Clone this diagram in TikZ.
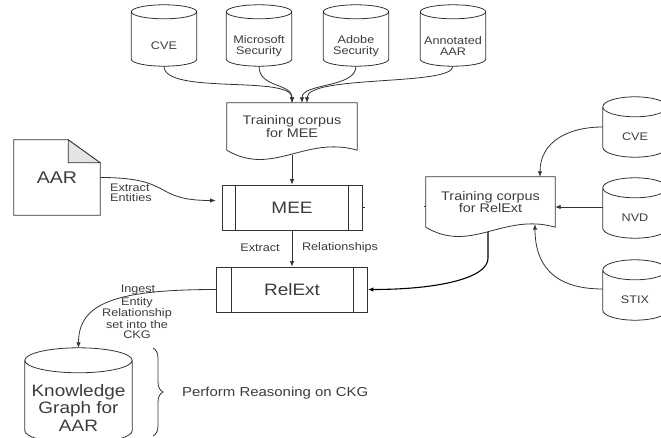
\documentclass[tikz,border=0pt]{standalone}
\usepackage{fontspec}
\setmainfont{Liberation Sans}[FakeStretch=1.15]
\usetikzlibrary{arrows.meta,calc,decorations.pathreplacing}

\definecolor{ink}{HTML}{333333}
\definecolor{inktext}{HTML}{3C3C3C}
\definecolor{foldgray}{HTML}{E4E4E4}

% Cylinder (database) drawn round a node: #1 node, #2 half-height of the
% end ellipses, #3 gap between the node's top and the front of the lid
\newcommand\drawdb[3]{%
  \draw[boxline] let \p1=(#1.north west), \p2=(#1.south east),
      \n1={(\x2-\x1)/2}, \n2={\y1+#3pt+#2pt} in
    (\x1,\n2) -- (\x1,\y2+#2pt)
      arc[start angle=180, end angle=360, x radius=\n1, y radius=#2pt]
      -- (\x2,\n2)
    (\x1+\n1,\n2) ellipse[x radius=\n1, y radius=#2pt];
}

% Document shape: box with a wavy lower edge below the node's bottom line
\newcommand\drawdoc[1]{%
  \draw[boxline] let \p1=(#1.north west), \p2=(#1.south east),
      \n1={\x2-\x1} in
    (\x1,\y2) -- (\x1,\y1) -- (\x2,\y1) -- (\x2,\y2)
    .. controls (\x1+0.6*\n1,\y2+15pt) and (\x1+0.35*\n1,\y2-27pt) .. (\x1,\y2)
    -- cycle;
}

\begin{document}
\begin{tikzpicture}[x=1pt,y=1pt,
  boxline/.style={draw=ink, line width=0.8pt},
  conn/.style={draw=ink, line width=0.8pt, -{Latex[length=5.5pt,width=4.5pt]}},
  dbnode/.style={minimum width=65pt, minimum height=40pt, inner sep=0pt,
    align=center, text=inktext, font=\fontsize{11}{10.5}\selectfont},
  docnode/.style={inner sep=0pt, align=center, text=inktext,
    font=\fontsize{12.5}{12.5}\selectfont},
  procbox/.style={boxline, minimum height=45pt, inner sep=0pt, text=inktext,
    font=\fontsize{16.5}{18}\selectfont},
  lbl/.style={inner sep=0pt, text=inktext, align=center,
    font=\fontsize{11}{10}\selectfont},
]
\useasboundingbox (0,0) rectangle (661,437);

% data sources
\node[dbnode] (cve1)  at (164,391) {CVE};
\node[dbnode] (ms)    at (259,391) {Microsoft\\Security};
\node[dbnode] (adobe) at (356,391) {Adobe\\Security};
\node[dbnode] (ann)   at (453,391) {Annotated\\AAR};
\node[dbnode, minimum width=64pt] (cve2) at (635,300) {CVE};
\node[dbnode, minimum width=64pt] (nvd)  at (635,219) {NVD};
\node[dbnode, minimum width=64pt] (stix) at (635,137) {STIX};
\node[dbnode, minimum width=107pt, minimum height=70pt,
      font=\fontsize{16.5}{17.5}\selectfont] (kg) at (78.5,29)
      {Knowledge\\Graph for\\AAR};
\coordinate (kgtop) at ($(kg.north)+(0,25)$);

% training corpora
\node[docnode, minimum width=130pt, minimum height=47pt] (corpM) at (292,310.5)
  {Training corpus\\for MEE};
\node[docnode, minimum width=129pt, minimum height=50pt] (corpR) at (490.5,235)
  {Training corpus\\for RelExt};

% input report
\node[inner sep=0pt, minimum width=86pt, minimum height=75pt, text=inktext,
      font=\fontsize{17}{17}\selectfont] (aar) at (57,259.5) {AAR};

% processes
\node[procbox, minimum width=140pt] (mee)    at (292,229.5) {MEE};
\node[procbox, minimum width=151pt] (relext) at (292,147.5) {RelExt};

% shapes
\foreach \nm/\ry/\gp in {cve1/7/7, ms/7/7, adobe/7/7, ann/7/7,
                         cve2/10/0, nvd/10/0, stix/10/0, kg/12.5/0}
  {\drawdb{\nm}{\ry}{\gp}}
\drawdoc{corpM}
\drawdoc{corpR}
\draw[boxline] (aar.north west) -- ([xshift=-32pt]aar.north east)
  -- ([yshift=-23pt]aar.north east) -- (aar.south east) -- (aar.south west) -- cycle;
\draw[boxline, fill=foldgray] ([xshift=-32pt]aar.north east)
  -- ([xshift=-32pt,yshift=-23pt]aar.north east) -- ([yshift=-23pt]aar.north east) -- cycle;
\foreach \nm/\d in {mee/14pt, relext/15pt} {
  \draw[boxline] ([xshift=\d]\nm.north west) -- ([xshift=\d]\nm.south west)
                 ([xshift=-\d]\nm.north east) -- ([xshift=-\d]\nm.south east);
}
\draw[boxline] (mee.east) -- ++(3,0);
\draw[boxline] ([yshift=-4pt]corpR.west) -- ++(-2,0);

% connectors
\draw[conn] (cve1.south)  .. controls +(0,-29) and +(0,28) .. (corpM.north);
\draw[conn] (ms.south)    .. controls +(0,-22) and +(0,20) .. (corpM.north);
\draw[conn] (adobe.south) .. controls +(0,-22) and +(0,20) .. ([xshift=10pt]corpM.north);
\draw[conn] (ann.south)   .. controls +(0,-20) and +(0,28) .. ([xshift=15pt]corpM.north);
\draw[conn] ([yshift=-4.5pt]corpM.south) -- (mee.north);
\draw[conn, shorten >=6pt] (aar.east) .. controls +(75,0) and +(-70,0) .. ([yshift=7pt]mee.west);
\draw[conn] (mee.south) -- (relext.north);
\draw[conn, draw=black, line width=1.1pt] ([xshift=-2.5pt,yshift=-5pt]corpR.south) -- ++(0,-26)
  .. controls +(0,-20) and +(70,0) .. (relext.east);
\draw[conn] ([yshift=10pt]cve2.west) .. controls +(-35,0) and +(0,35) .. ([xshift=49.5pt]corpR.north);
\draw[conn] ([yshift=11pt]nvd.west) -- ([yshift=11pt]nvd.west -| corpR.east);
\draw[conn] ([yshift=11pt]stix.west) .. controls +(-50,0) and +(0,-40) .. ([xshift=44.5pt,yshift=3pt]corpR.south);
\draw[conn] (relext.west) .. controls +(-100,0) and +(0,45) .. (kgtop);

% connector labels
\node[lbl, align=left, anchor=west] (lblent) at (110,244) {Extract\\Entities};
\node[lbl] (lblext) at (260,189) {Extract};
\node[lbl] (lblrel) at (340,189) {Relationships};
\node[lbl] (lblingest) at (138,147) {Ingest};
\node[lbl] (lblset) at (137,119) {Entity\\Relationship\\set into the\\CKG};

% reasoning over the graph
\coordinate (bracetop) at (153,89);
\coordinate (bracebot) at (153,1);
\draw[boxline, decorate, decoration={brace, amplitude=10pt}] (bracetop) -- (bracebot);
\node[lbl, anchor=west, font=\fontsize{13}{13}\selectfont] (reason) at (182,44)
  {Perform Reasoning on CKG};
\end{tikzpicture}
\end{document}
